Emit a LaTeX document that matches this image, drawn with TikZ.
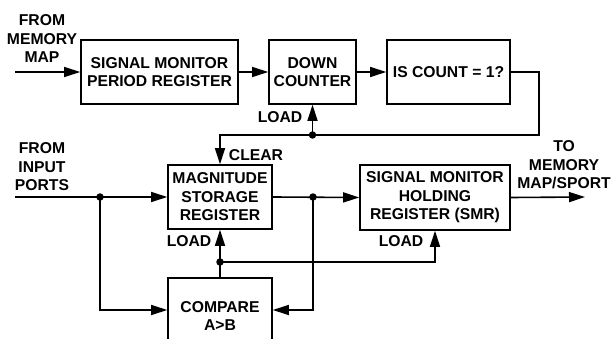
\documentclass[tikz,border=0pt]{standalone}
\usepackage{fontspec}
\setmainfont{Liberation Sans}
\usetikzlibrary{arrows.meta}
\tikzset{
  blk/.style={draw, line width=1.6pt, rectangle, inner sep=0pt, align=center,
    font=\bfseries\fontsize{15.7}{18.5}\selectfont},
  lbl/.style={inner sep=0pt, align=center, font=\bfseries\fontsize{15.7}{18.5}\selectfont},
  wire/.style={line width=1.6pt},
  arr/.style={wire, -{Triangle[length=16pt,width=10pt]}},
  dot/.style={circle, fill, inner sep=0pt, minimum size=7.5pt}
}
\begin{document}
\begin{tikzpicture}[x=1pt,y=-1pt]
\useasboundingbox (0,0) rectangle (612,339);
\clip (0,0) rectangle (612,339);
% blocks
\node[blk, minimum width=157pt, minimum height=64pt] (smpr) at (159.5,72) {SIGNAL MONITOR\\PERIOD REGISTER};
\node[blk, minimum width=87pt, minimum height=64pt] (dc) at (312.5,72) {DOWN\\COUNTER};
\node[blk, minimum width=123pt, minimum height=64pt] (isc) at (448.5,72) {IS COUNT = 1?};
\node[blk, minimum width=104pt, minimum height=64pt] (msr) at (220,197) {MAGNITUDE\\STORAGE\\REGISTER};
\node[blk, minimum width=150pt, minimum height=65pt] (smhr) at (435,197.5) {SIGNAL MONITOR\\HOLDING\\REGISTER (SMR)};
\node[blk, minimum width=104pt, minimum height=76pt] (cmp) at (220,316) {COMPARE\\A>B};
% labels
\node[lbl] (fmm) at (42,39) {FROM\\MEMORY\\MAP};
\node[lbl] (fip) at (42,167) {FROM\\INPUT\\PORTS};
\node[lbl] (tmm) at (564,165) {TO\\MEMORY\\MAP/SPORT};
\node[lbl] (ld1) at (280,117) {LOAD};
\node[lbl] (clr) at (256,155) {CLEAR};
\node[lbl] (ld2) at (189,241) {LOAD};
\node[lbl] (ld3) at (401,241) {LOAD};
% coordinates
\coordinate (in1) at (15,72);
\coordinate (in2) at (15,197);
\coordinate (out) at (585,197);
\coordinate (cr) at (539,72);
\coordinate (yb) at (0,135);
\coordinate (yc) at (0,310);
\coordinate (yl) at (0,262);
% dots
\node[dot] (d1) at (dc.south |- yb) {};
\node[dot] (d2) at (100,197) {};
\node[dot] (d3) at (313,197) {};
\node[dot] (d4) at (msr.south |- yl) {};
% connectors
\draw[arr] (in1) -- (smpr.west);
\draw[arr] (smpr.east) -- (dc.west);
\draw[arr] (dc.east) -- (isc.west);
\draw[arr] (isc.east) -- (cr) -- (cr |- yb) -- (msr.north |- yb) -- (msr.north);
\draw[arr] (d1.center) -- (dc.south);
\draw[arr] (in2) -- (msr.west);
\draw[arr] (d2.center) |- (cmp.west |- yc);
\draw[arr] (msr.east) -- (smhr.west);
\draw[arr] (d3.center) |- (cmp.east |- yc);
\draw[arr] (cmp.north) -- (msr.south);
\draw[arr] (d4.center) -| (smhr.south);
\draw[arr] (smhr.east) -- (out);
\end{tikzpicture}
\end{document}
